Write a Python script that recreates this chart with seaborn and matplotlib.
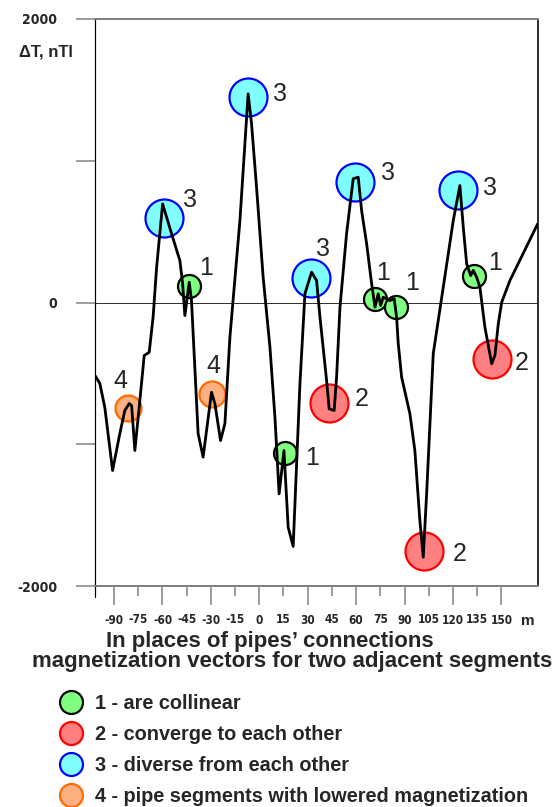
import numpy as np
import pandas as pd
import seaborn as sns
import matplotlib
matplotlib.use("Agg")
import matplotlib.pyplot as plt
from matplotlib import font_manager
from matplotlib.lines import Line2D
from matplotlib.ticker import FixedLocator, FixedFormatter

# profile of the anomaly along the pipe, m / nTl
dist = [-101.5, -98.8, -95.7, -90.9, -86.4, -83.3, -80.6, -79.1, -77.1, -74.0,
        -71.3, -68.2, -65.8, -63.6, -59.9, -54.4, -49.2, -47.5, -46.1, -43.4,
        -42.0, -37.9, -34.8, -29.6, -27.5, -24.0, -21.3, -18.2, -12.0, -6.9,
        -4.8, -1.7, 2.4, 6.6, 9.7, 12.3, 15.3, 17.9, 21.0, 25.2,
        28.3, 32.4, 35.5, 37.6, 41.7, 43.3, 46.4, 47.9, 50.0, 54.1,
        58.2, 61.3, 63.4, 66.5, 69.6, 71.7, 73.7, 75.2, 76.8, 80.9,
        83.6, 85.1, 86.1, 88.2, 93.3, 96.4, 99.5, 101.6, 103.7, 107.8,
        114.0, 120.2, 124.3, 126.4, 128.5, 131.0, 132.6, 134.7, 136.7, 139.8,
        144.0, 146.0, 148.1, 150.2, 155.3, 172.5]
dT = [-520, -571, -741, -1185, -924, -762, -713, -727, -1044, -691,
      -374, -351, -104, 249, 696, 487, 296, 134, -92, 143,
      14, -924, -1091, -633, -713, -974, -854, -245, 578, 1472,
      1263, 813, 178, -315, -809, -1350, -1044, -1585, -1721, -571,
      63, 214, 155, -104, -550, -750, -762, -527, -33, 487,
      873, 884, 649, 416, 134, -33, 61, -21, 37, 14,
      26, -104, -289, -527, -783, -1044, -1538, -1797, -1348, -360,
      108, 579, 825, 531, 273, 190, 226, 178, 108, -174,
      -432, -374, -150, 2, 155, 555]

# pipe connections, by type
kind1_x = [-43.4, 15.9, 71.7, 84.8, 133.0]
kind1_y = [113, -1065, 28, -35, 190]
kind2_x = [43.5, 101.8, 144.0]
kind2_y = [-706, -1750, -402]
kind3_x = [-59.1, -6.8, 32.0, 59.3, 123.3]
kind3_y = [593, 1453, 176, 847, 797]
kind4_x = [-81.3, -29.2]
kind4_y = [-741, -642]

legend_labels = ["1 - are collinear", "2 - converge to each other",
                 "3 - diverse from each other",
                 "4 - pipe segments with lowered magnetization"]
xtick_major = [-90, -60, -30, 0, 30, 60, 90, 120, 150]
xtick_minor = [-75, -45, -15, 15, 45, 75, 105, 135]
ytick_vals = [-2000, -1000, 0, 1000, 2000]
ytick_text = ["-2000", "", "0", "", "2000"]

sns.set_style("white")
plt.rcParams["font.family"] = ["Liberation Sans", "DejaVu Sans"]

names = {f.name for f in font_manager.fontManager.ttflist}
narrow = "Liberation Sans Narrow" if "Liberation Sans Narrow" in names else "DejaVu Sans"

px = 0.72  # points per pixel at dpi 100

fig = plt.figure(figsize=(5.6, 8.07), dpi=100)
ax = fig.add_axes([94.5 / 560, 1 - 586 / 807, (538 - 94.5) / 560, (586 - 19) / 807])

styles = {
    1: dict(fc="#80ff80", ec="black", d=23),
    2: dict(fc="#ff8080", ec="#ff0000", d=38),
    3: dict(fc="#80ffff", ec="#0000ff", d=38),
    4: dict(fc="#ffb080", ec="#ff6a00", d=26),
}
pts = pd.DataFrame({
    "x": kind1_x + kind2_x + kind3_x + kind4_x,
    "y": kind1_y + kind2_y + kind3_y + kind4_y,
    "kind": [1] * len(kind1_x) + [2] * len(kind2_x) + [3] * len(kind3_x) + [4] * len(kind4_x),
})

for k, st in styles.items():
    sub = pts[pts.kind == k]
    sns.scatterplot(data=sub, x="x", y="y", ax=ax, s=(st["d"] * px) ** 2,
                    color=st["fc"], edgecolor=st["ec"], linewidth=2.2 * px,
                    zorder=2, legend=False)

prof = pd.DataFrame({"dist": dist, "dT": dT})
sns.lineplot(data=prof, x="dist", y="dT", ax=ax, color="black", lw=2.8 * px,
             sort=False, zorder=3)

# number next to each circle (pixel offsets, y down)
offsets = {
    1: [(17, -18), (27, 5), (8, -26), (16, -24), (21, -13)],
    2: [(32, -4), (36, 3), (30, 4)],
    3: [(26, -18), (32, -3), (12, -29), (33, -9), (32, -2)],
    4: [(-8, -27), (1, -28)],
}
for k in styles:
    sub = pts[pts.kind == k].reset_index(drop=True)
    for i, r in sub.iterrows():
        dx, dy = offsets[k][i]
        ax.annotate(str(k), (r.x, r.y), xytext=(dx * px, -dy * px),
                    textcoords="offset points", ha="center", va="center",
                    fontsize=18, zorder=4)

ax.axhline(0, color="#333333", lw=1 * px, zorder=1)
ax.set_xlim(-102.1, 172.7)
ax.set_ylim(-2000, 2000)
ax.set_xlabel("")
ax.set_ylabel("")

ax.xaxis.set_major_locator(FixedLocator(xtick_major))
ax.xaxis.set_major_formatter(FixedFormatter([str(v) for v in xtick_major]))
ax.xaxis.set_minor_locator(FixedLocator(xtick_minor))
ax.xaxis.set_minor_formatter(FixedFormatter([str(v) for v in xtick_minor]))
ax.tick_params(axis="x", which="major", direction="out", length=19 * px, width=1.5 * px,
               color="#808080", pad=6.5, bottom=True)
ax.tick_params(axis="x", which="minor", direction="out", length=10 * px, width=1.5 * px,
               color="#808080", pad=12.3, bottom=True)
for lab in ax.get_xticklabels(which="both"):
    lab.set_fontfamily([narrow, "DejaVu Sans"])
    lab.set_fontweight("bold")
    lab.set_fontsize(8.5)
    lab.set_fontstretch("condensed")

ax.set_yticks(ytick_vals)
ax.set_yticklabels(ytick_text)
ax.tick_params(axis="y", direction="out", length=19 * px, width=1.5 * px,
               color="#808080", pad=13, left=True)
for lab in ax.get_yticklabels():
    lab.set_fontfamily([narrow, "DejaVu Sans"])
    lab.set_fontweight("bold")
    lab.set_fontsize(10)
    lab.set_fontstretch("condensed")

for side in ["top", "bottom"]:
    ax.spines[side].set_color("#808080")
    ax.spines[side].set_linewidth(2 * px)
ax.spines["left"].set_color("black")
ax.spines["left"].set_linewidth(1.2 * px)
ax.spines["right"].set_color("black")
ax.spines["right"].set_linewidth(1.6 * px)
ax.plot([0, 0], [0, -11 / 567], transform=ax.transAxes, color="black",
        lw=1.2 * px, clip_on=False)

fig.text(46 / 560, 1 - 52 / 807, "ΔT, nTl", ha="center", va="center",
         fontsize=12, fontweight="bold")
fig.text(528 / 560, 1 - 621 / 807, "m", ha="center", va="center",
         fontsize=11, fontweight="bold")

fig.text(270 / 560, 1 - 641 / 807, "In places of pipes’ connections",
         ha="center", va="center", fontsize=16, fontweight="bold")
fig.text(292 / 560, 1 - 662 / 807, "magnetization vectors for two adjacent segments",
         ha="center", va="center", fontsize=16, fontweight="bold")

handles = [Line2D([], [], ls="none", marker="o", markersize=23 * px,
                  markerfacecolor=styles[k]["fc"], markeredgecolor=styles[k]["ec"],
                  markeredgewidth=2.2 * px) for k in styles]
fig.legend(handles, legend_labels, loc="upper left",
           bbox_to_anchor=(59 / 560, 1 - 694 / 807), frameon=False,
           borderpad=0, borderaxespad=0, handlelength=1.2, handletextpad=0.62,
           labelspacing=0.6, prop=dict(size=14.3, weight="bold"))

fig.savefig("out.png", dpi=100)
